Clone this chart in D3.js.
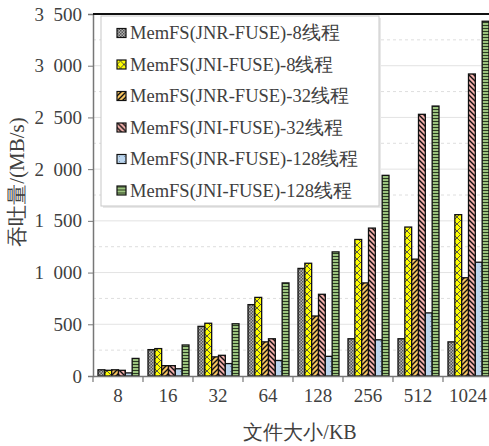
<!DOCTYPE html>
<html>
<head>
<meta charset="utf-8">
<script src="https://cdn.jsdelivr.net/npm/d3@7"></script>
<style>
  body { margin: 0; background: #fff; }
</style>
</head>
<body>
<div id="vis"></div>
<script>
// data
let fileSizes = ['8', '16', '32', '64', '128', '256', '512', '1024'];
let seriesNames = ['MemFS(JNR-FUSE)-8线程', 'MemFS(JNI-FUSE)-8线程', 'MemFS(JNR-FUSE)-32线程',
                   'MemFS(JNI-FUSE)-32线程', 'MemFS(JNR-FUSE)-128线程', 'MemFS(JNI-FUSE)-128线程'];
let jnr8   = [60, 255, 480, 690, 1040, 360, 360, 330];
let jni8   = [55, 265, 510, 760, 1090, 1320, 1440, 1560];
let jnr32  = [60, 100, 185, 330, 580, 900, 1130, 950];
let jni32  = [55, 100, 200, 360, 790, 1430, 2530, 2920];
let jnr128 = [30, 70, 120, 150, 190, 350, 610, 1100];
let jni128 = [170, 300, 505, 900, 1200, 1940, 2610, 3430];
let yTicks = [0, 500, 1000, 1500, 2000, 2500, 3000, 3500];

let series = [jnr8, jni8, jnr32, jni32, jnr128, jni128];

let serif = 'Liberation Serif';
let textColor = '#404040';

let margin = {top: 14, left: 93, right: -4, bottom: 70},
  W = 489, H = 446,
  width = W - margin.left - margin.right,
  height = H - margin.top - margin.bottom;

let svg = d3.select('#vis').append('svg')
  .attr('width', W)
  .attr('height', H)
  .style('font-family', serif);

// patterns for the six series
let defs = svg.append('defs');
function pat(id, size, bg) {
  let p = defs.append('pattern').attr('id', id).attr('patternUnits', 'userSpaceOnUse')
    .attr('width', size).attr('height', size);
  p.append('rect').attr('width', size).attr('height', size).attr('fill', bg);
  return p;
}
// gray checker
let p0 = pat('p0', 3, '#b4b4b4');
p0.append('rect').attr('width', 1.5).attr('height', 1.5).attr('fill', '#555');
p0.append('rect').attr('x', 1.5).attr('y', 1.5).attr('width', 1.5).attr('height', 1.5).attr('fill', '#555');
// yellow diamonds
let p1 = pat('p1', 7, '#ffff00');
p1.append('path').attr('d', 'M0,0L7,7M7,0L0,7').attr('stroke', '#444').attr('stroke-width', 0.9);
// orange "/"
let p2 = pat('p2', 5, '#f7c460');
p2.append('path').attr('d', 'M-1,6L6,-1M-1,1L1,-1M4,6L6,4').attr('stroke', '#111').attr('stroke-width', 1.4);
// pink "\"
let p3 = pat('p3', 5, '#f5b1ad');
p3.append('path').attr('d', 'M-1,-1L6,6M4,-1L6,1M-1,4L1,6').attr('stroke', '#111').attr('stroke-width', 1.4);
// blue dots
let p4 = pat('p4', 5, '#bcd6ef');
p4.append('circle').attr('cx', 2.5).attr('cy', 2.5).attr('r', 0.6).attr('fill', '#6f8fb0');
// green stripes
let p5 = pat('p5', 3, '#9cc47f');
p5.append('rect').attr('y', 2).attr('width', 3).attr('height', 1).attr('fill', '#2b3b22');

let g = svg.append('g').attr('transform', `translate(${margin.left},${margin.top})`);

// scales
let xScale0 = d3.scaleBand().domain(fileSizes).range([0, width]);
let xScale1 = d3.scaleBand().domain(d3.range(6)).range([5, 46]);
let yScale = d3.scaleLinear().domain([0, 3500]).range([height, 0]);

// grid
g.selectAll('.gminor').data(d3.range(250, 3500, 500)).enter().append('line')
  .attr('x1', 0).attr('x2', width)
  .attr('y1', d => yScale(d)).attr('y2', d => yScale(d))
  .attr('stroke', '#dedede').attr('stroke-dasharray', '3,3');
g.selectAll('.gmajor').data(yTicks.slice(1, -1)).enter().append('line')
  .attr('x1', 0).attr('x2', width)
  .attr('y1', d => yScale(d)).attr('y2', d => yScale(d))
  .attr('stroke', '#e3e3e3');

// bars
let groups = g.selectAll('.size').data(fileSizes).enter().append('g')
  .attr('transform', d => `translate(${xScale0(d)},0)`);
groups.selectAll('rect').data((d, i) => series.map((s, k) => ({k: k, v: s[i]}))).enter().append('rect')
  .attr('x', d => xScale1(d.k))
  .attr('y', d => yScale(d.v))
  .attr('width', xScale1.bandwidth())
  .attr('height', d => height - yScale(d.v))
  .attr('fill', d => `url(#p${d.k})`)
  .attr('stroke', '#111')
  .attr('stroke-width', 1.3);

// axes (thousands separated by an en space)
let yAxis = g.append('g').call(d3.axisLeft(yScale).tickValues(yTicks).tickSize(5).tickPadding(6)
  .tickFormat(d => d3.format(',')(d).replace(',', '\u2002')));
yAxis.attr('font-family', null).attr('font-size', null);
yAxis.select('.domain').attr('stroke', '#777').attr('stroke-width', 1.5);
yAxis.selectAll('.tick line').attr('stroke', '#777');
yAxis.selectAll('text').attr('fill', textColor).style('font-family', serif).style('font-size', '19px');

let xAxis = g.append('g').attr('transform', `translate(0,${height})`)
  .call(d3.axisBottom(xScale0).tickSize(0).tickPadding(13));
xAxis.attr('font-family', null).attr('font-size', null);
xAxis.select('.domain').attr('stroke', '#777').attr('stroke-width', 1.5);
xAxis.selectAll('text').attr('fill', textColor).style('font-family', serif).style('font-size', '19px');
xAxis.selectAll('.bnd').data(fileSizes).enter().append('line')
  .attr('x1', d => xScale0(d)).attr('x2', d => xScale0(d))
  .attr('y1', 0).attr('y2', 6).attr('stroke', '#777').attr('stroke-width', 1.2);

// top frame line
g.append('line').attr('x1', 0).attr('x2', width).attr('y1', 0).attr('y2', 0)
  .attr('stroke', '#111').attr('stroke-width', 2);

// legend
let lg = svg.append('g').attr('transform', 'translate(101,16)');
lg.append('rect').attr('x', 2).attr('y', 2).attr('width', 278).attr('height', 190)
  .attr('fill', '#e8e8e8');
lg.append('rect').attr('width', 278).attr('height', 190)
  .attr('fill', '#fff').attr('stroke', '#c8c8c8');
let items = lg.selectAll('.item').data(seriesNames).enter().append('g')
  .attr('transform', (d, i) => `translate(16,${17 + i * 31.5})`);
items.append('rect').attr('x', 0).attr('y', -4.5).attr('width', 9).attr('height', 9)
  .attr('fill', (d, i) => `url(#p${i})`).attr('stroke', '#111').attr('stroke-width', 1.2);
items.append('text').attr('x', 13).attr('y', 0).attr('dy', '0.35em')
  .style('font-family', serif).style('font-size', '18.5px').attr('fill', textColor)
  .text(d => d);

// axis labels
svg.append('text')
  .attr('x', 300).attr('y', 432).attr('dy', '0.35em')
  .attr('text-anchor', 'middle')
  .style('font-family', serif).style('font-size', '20px').attr('fill', textColor)
  .text('文件大小/KB');

svg.append('text')
  .attr('transform', 'translate(17,182) rotate(-90)')
  .attr('dy', '0.35em')
  .attr('text-anchor', 'middle')
  .style('font-family', serif).style('font-size', '21px').attr('fill', textColor)
  .text('吞吐量/(MB/s)');
</script>
</body>
</html>
